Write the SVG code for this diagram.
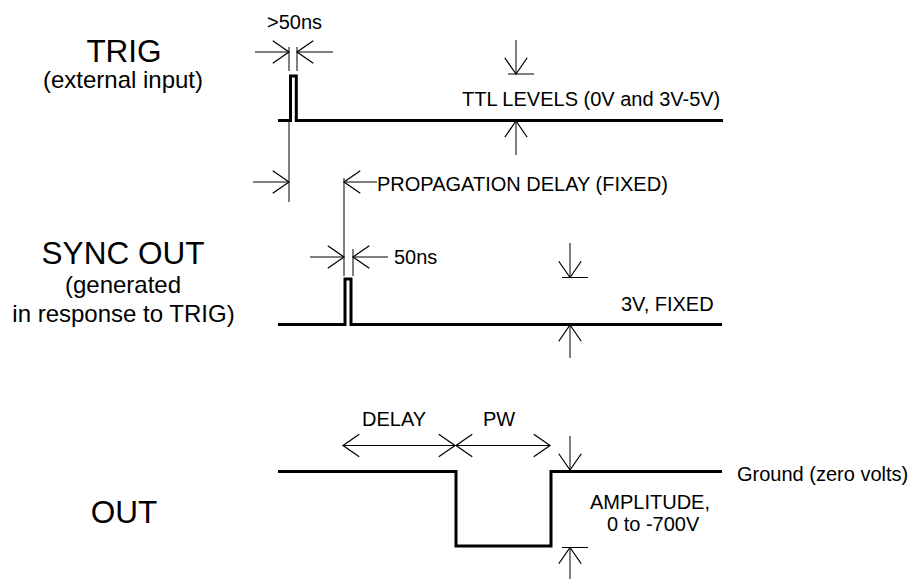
<svg xmlns="http://www.w3.org/2000/svg" width="909" height="579" viewBox="0 0 909 579">
<style>
text{font-family:"Liberation Sans",Arial,sans-serif;fill:#000}
.big{font-size:31.5px;text-anchor:middle}
.sub{font-size:24px;text-anchor:middle}
.lbl{font-size:20px}
.wave{fill:none;stroke:#000;stroke-width:3;stroke-linejoin:miter}
.thin{fill:none;stroke:#000;stroke-width:1}
.arr{fill:none;stroke:#000;stroke-width:1;marker-end:url(#v)}
.darr{fill:none;stroke:#000;stroke-width:1;marker-end:url(#v);marker-start:url(#vs)}
</style>
<defs>
<marker id="v" markerUnits="userSpaceOnUse" markerWidth="30" markerHeight="30" refX="0" refY="0" viewBox="-16 -12 20 24" orient="auto" overflow="visible">
<path d="M-13,-9 L0,0 L-13,9" fill="none" stroke="#000" stroke-width="1"/>
</marker>
<marker id="vs" markerUnits="userSpaceOnUse" markerWidth="30" markerHeight="30" refX="0" refY="0" viewBox="-4 -12 20 24" orient="auto" overflow="visible">
<path d="M13,-9 L0,0 L13,9" fill="none" stroke="#000" stroke-width="1"/>
</marker>
</defs>

<g id="label-trig">
<text class="big" x="124" y="62">TRIG</text>
<text class="sub" x="123" y="88">(external input)</text>
</g>
<g id="label-sync">
<text class="big" x="123" y="264">SYNC OUT</text>
<text class="sub" x="123" y="293">(generated</text>
<text class="sub" x="123.5" y="322">in response to TRIG)</text>
</g>
<g id="label-out">
<text class="big" x="124" y="523">OUT</text>
</g>

<g id="wave-trig">
<path class="wave" d="M278,120.5 H290.5 V76 H296.3 V120.5 H723"/>
</g>
<g id="wave-sync">
<path class="wave" d="M278,324.5 H345 V279 H351 V324.5 H722"/>
</g>
<g id="wave-out">
<path class="wave" d="M278,471.5 H456 V546 H551 V471.5 H722"/>
</g>

<g id="connectors">
<!-- >50ns -->
<line class="thin" x1="289" y1="47" x2="289" y2="71"/>
<line class="thin" x1="297" y1="47" x2="297" y2="71"/>
<line class="arr" x1="255" y1="52" x2="289" y2="52"/>
<line class="arr" x1="333" y1="52" x2="297" y2="52"/>
<!-- TTL levels -->
<line class="arr" x1="516" y1="40" x2="516" y2="74"/>
<line class="thin" x1="508" y1="74" x2="534" y2="74"/>
<line class="arr" x1="516" y1="155" x2="516" y2="121"/>
<!-- propagation delay -->
<line class="thin" x1="289" y1="122" x2="289" y2="202"/>
<line class="arr" x1="253" y1="182" x2="289" y2="182"/>
<line class="thin" x1="344" y1="178" x2="344" y2="276"/>
<line class="arr" x1="377" y1="182" x2="344" y2="182"/>
<!-- 50ns -->
<line class="thin" x1="353" y1="249" x2="353" y2="276"/>
<line class="arr" x1="310" y1="257" x2="344" y2="257"/>
<line class="arr" x1="388" y1="257" x2="353" y2="257"/>
<!-- 3V fixed -->
<line class="arr" x1="570" y1="243" x2="570" y2="277.5"/>
<line class="thin" x1="562" y1="277.5" x2="588" y2="277.5"/>
<line class="arr" x1="570" y1="358" x2="570" y2="325"/>
<!-- delay / pw -->
<line class="darr" x1="343" y1="445.5" x2="455" y2="445.5"/>
<line class="darr" x1="456" y1="445.5" x2="550" y2="445.5"/>
<!-- amplitude -->
<line class="arr" x1="570" y1="436" x2="570" y2="470"/>
<line class="thin" x1="562" y1="547.5" x2="588" y2="547.5"/>
<line class="arr" x1="570" y1="579" x2="570" y2="547.5"/>
</g>

<g id="annotations">
<text class="lbl" x="267" y="29">&gt;50ns</text>
<text class="lbl" x="462" y="106">TTL LEVELS (0V and 3V-5V)</text>
<text class="lbl" x="377" y="191">PROPAGATION DELAY (FIXED)</text>
<text class="lbl" x="394" y="264">50ns</text>
<text class="lbl" x="621" y="311">3V, FIXED</text>
<text class="lbl" x="362" y="426">DELAY</text>
<text class="lbl" x="483" y="426">PW</text>
<text class="lbl" x="737" y="481">Ground (zero volts)</text>
<text class="lbl" x="590" y="509">AMPLITUDE,</text>
<text class="lbl" x="607" y="531">0 to -700V</text>
</g>
</svg>
